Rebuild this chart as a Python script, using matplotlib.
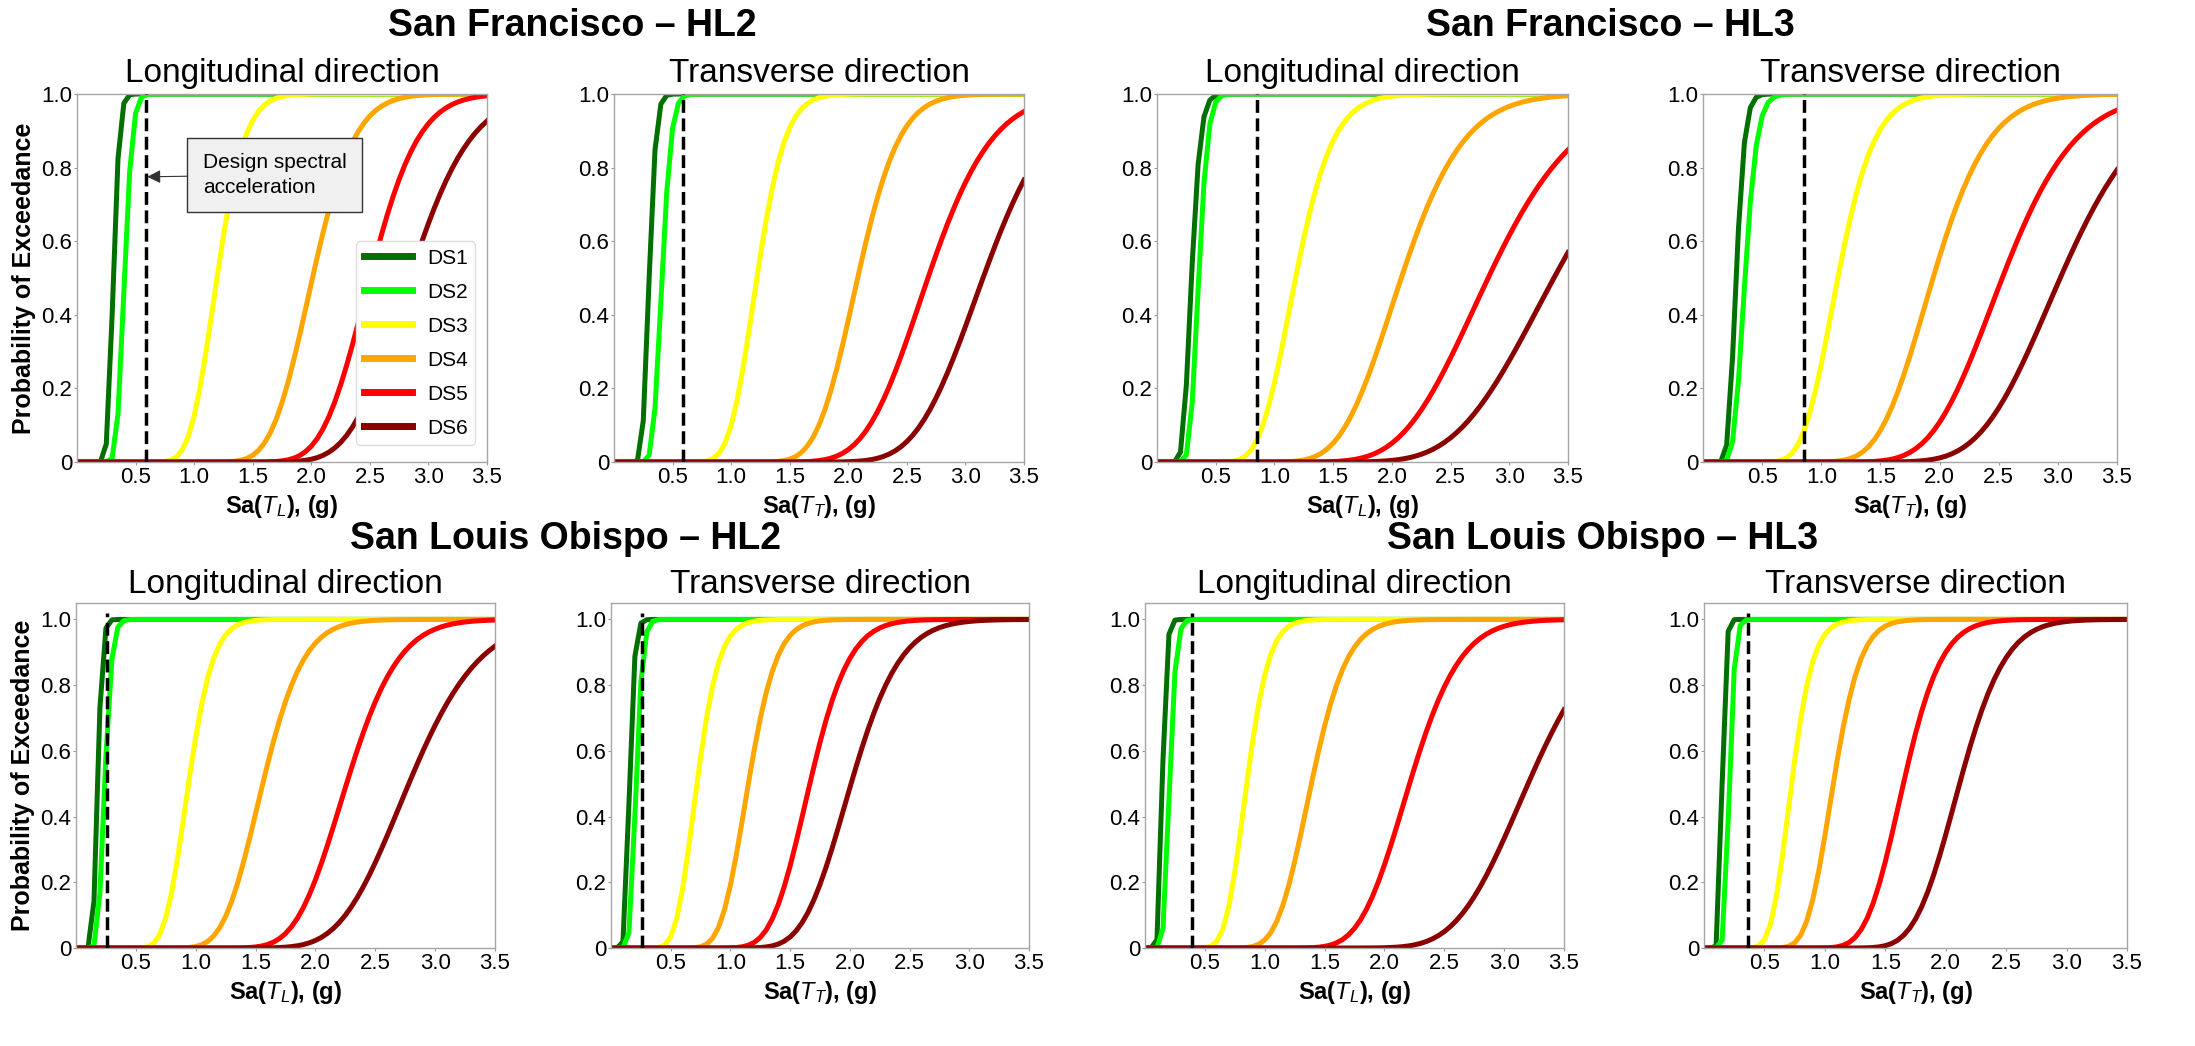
import math
import numpy as np
import matplotlib
matplotlib.use('Agg')
import matplotlib.pyplot as plt
from matplotlib.ticker import FuncFormatter

plt.rcParams['font.family'] = 'Liberation Sans'
plt.rcParams['mathtext.fontset'] = 'custom'
plt.rcParams['mathtext.rm'] = 'Liberation Sans'
plt.rcParams['mathtext.it'] = 'Liberation Sans:italic'
plt.rcParams['mathtext.bf'] = 'Liberation Sans:bold'

damage_states = ['DS1', 'DS2', 'DS3', 'DS4', 'DS5', 'DS6']
ds_colors = ['#007000', '#00ff00', '#ffff00', '#ffa500', '#ff0000', '#8b0000']

# fragility medians (g) and log-std per damage state
sf_hl2_long_med = [0.31, 0.405, 1.195, 2.01, 2.50, 2.84]
sf_hl2_long_beta = [0.13, 0.13, 0.155, 0.14, 0.13, 0.144]
sf_hl2_tran_med = [0.30, 0.41, 1.22, 2.08, 2.68, 3.15]
sf_hl2_tran_beta = [0.15, 0.15, 0.155, 0.135, 0.16, 0.145]
sf_hl3_long_med = [0.294, 0.355, 1.18, 2.08, 2.82, 3.38]
sf_hl3_long_beta = [0.20, 0.17, 0.21, 0.20, 0.21, 0.20]
sf_hl3_tran_med = [0.28, 0.355, 1.14, 1.945, 2.53, 3.02]
sf_hl3_tran_beta = [0.20, 0.22, 0.21, 0.19, 0.19, 0.18]
slo_hl2_long_med = [0.18, 0.24, 0.94, 1.56, 2.26, 2.78]
slo_hl2_long_beta = [0.17, 0.19, 0.17, 0.17, 0.15, 0.165]
slo_hl2_tran_med = [0.155, 0.21, 0.72, 1.15, 1.665, 2.01]
slo_hl2_tran_beta = [0.21, 0.20, 0.20, 0.16, 0.155, 0.16]
slo_hl3_long_med = [0.145, 0.205, 0.85, 1.39, 2.21, 3.20]
slo_hl3_long_beta = [0.19, 0.20, 0.17, 0.167, 0.15, 0.15]
slo_hl3_tran_med = [0.15, 0.21, 0.725, 1.07, 1.65, 2.115]
slo_hl3_tran_beta = [0.16, 0.17, 0.19, 0.165, 0.15, 0.14]

# design spectral acceleration per panel (g)
design_sa = [0.59, 0.59, 0.85, 0.85, 0.26, 0.26, 0.39, 0.36]

group_titles = ['San Francisco \u2013 HL2', 'San Francisco \u2013 HL3',
                'San Louis Obispo \u2013 HL2', 'San Louis Obispo \u2013 HL3']
panel_titles = ['Longitudinal direction', 'Transverse direction'] * 4
panel_xlabels = [r'Sa($T_L$), (g)', r'Sa($T_T$), (g)'] * 4

sa = np.arange(0, 3.5001, 0.05)


def frag(x, med, beta):
    return np.array([0.0 if v <= 0 else 0.5 * (1 + math.erf(math.log(v / med) / (beta * math.sqrt(2))))
                     for v in x])


meds = [sf_hl2_long_med, sf_hl2_tran_med, sf_hl3_long_med, sf_hl3_tran_med,
        slo_hl2_long_med, slo_hl2_tran_med, slo_hl3_long_med, slo_hl3_tran_med]
betas = [sf_hl2_long_beta, sf_hl2_tran_beta, sf_hl3_long_beta, sf_hl3_tran_beta,
         slo_hl2_long_beta, slo_hl2_tran_beta, slo_hl3_long_beta, slo_hl3_tran_beta]

W, H = 2195, 1046
fig = plt.figure(figsize=(W / 100, H / 100), dpi=100)

# axes boxes in pixels: left, top, right, bottom
boxes = [(77, 94, 487, 462), (614, 94, 1024, 462), (1157, 94, 1568, 462), (1703, 94, 2117, 462),
         (76, 603, 495, 948), (611, 603, 1029, 948), (1145, 603, 1564, 948), (1704, 603, 2127, 948)]

fmt = FuncFormatter(lambda v, p: '0' if abs(v) < 1e-9 else '%.1f' % v)

for i, (l, t, r, b) in enumerate(boxes):
    ax = fig.add_axes([l / W, 1 - b / H, (r - l) / W, (b - t) / H])
    for k in range(6):
        ax.plot(sa, frag(sa, meds[i][k], betas[i][k]), color=ds_colors[k], lw=3.6,
                label=damage_states[k])
    ax.plot([design_sa[i], design_sa[i]], [0, 1.02], color='black', ls='--', lw=2.5, zorder=5)
    ax.set_xlim(0, 3.5)
    ax.set_ylim(0, 1.0 if i < 4 else 1.05)
    ax.set_xticks([0.5, 1.0, 1.5, 2.0, 2.5, 3.0, 3.5])
    ax.set_yticks([0, 0.2, 0.4, 0.6, 0.8, 1.0])
    ax.xaxis.set_major_formatter(FuncFormatter(lambda v, p: '%.1f' % v))
    ax.yaxis.set_major_formatter(fmt)
    ax.tick_params(labelsize=16, length=2.5, width=0.8, color='#999999', pad=1)
    for s in ax.spines.values():
        s.set_color('#a6a6a6')
        s.set_linewidth(1.0)
    ax.set_title(panel_titles[i], fontsize=24, pad=8.5 if i < 4 else 7)
    ax.set_xlabel(panel_xlabels[i], fontsize=17, fontweight='bold', labelpad=4)
    if i in (0, 4):
        ax.set_ylabel('Probability of Exceedance', fontsize=18, fontweight='bold', labelpad=4)
    if i == 0:
        leg = ax.legend(loc='lower right', bbox_to_anchor=(0.971, 0.046), borderaxespad=0,
                        fontsize=15, handlelength=2.35, handletextpad=0.7, borderpad=0.35,
                        labelspacing=0.72, edgecolor='#dddddd', framealpha=1)
        for h in leg.legend_handles:
            h.set_linewidth(5)
        ax.annotate('Design spectral\nacceleration', xy=(design_sa[i] + 0.01, 0.775),
                    xytext=(1.69, 0.78), fontsize=15, ha='center', va='center',
                    multialignment='left', linespacing=1.35,
                    bbox=dict(boxstyle='square,pad=0.75', fc='#f0f0f0', ec='#333333', lw=1),
                    arrowprops=dict(arrowstyle='-|>', color='#333333', lw=0.8,
                                    mutation_scale=20, shrinkA=0, shrinkB=0), zorder=6)

# group titles
for (x, y), txt in zip([(572, 36), (1610, 36), (565, 549), (1603, 549)], group_titles):
    fig.text(x / W, 1 - y / H, txt, fontsize=27, fontweight='bold', ha='center', va='baseline')

fig.savefig('out.png', dpi=100)
